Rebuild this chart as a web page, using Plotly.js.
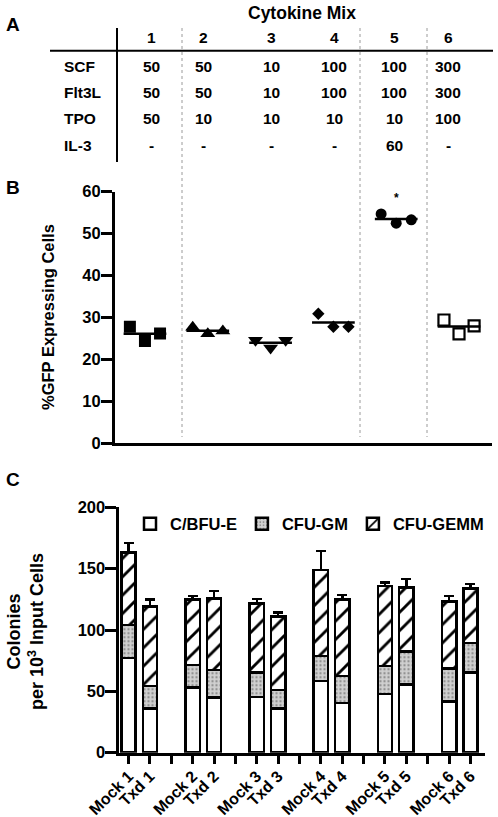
<!DOCTYPE html>
<html>
<head>
<meta charset="utf-8">
<script src="https://cdn.plot.ly/plotly-3.0.1.min.js"></script>
<style>html,body{margin:0;padding:0;background:#fff;}#chart{width:498px;height:817px;}</style>
</head>
<body>
<div id="chart"></div>
<script>
// ---------- Panel A: table data ----------
const mixLabels = ['1', '2', '3', '4', '5', '6'];
const cytokines = ['SCF', 'Flt3L', 'TPO', 'IL-3'];
const scfDose = ['50', '50', '10', '100', '100', '300'];
const flt3lDose = ['50', '50', '10', '100', '100', '300'];
const tpoDose = ['50', '10', '10', '10', '10', '100'];
const il3Dose = ['-', '-', '-', '-', '60', '-'];

// ---------- Panel B: %GFP expressing cells (3 replicates per mix) ----------
const gfpMix1 = [27.8, 24.4, 26.2];
const gfpMix2 = [27.7, 26.1, 26.8];
const gfpMix3 = [24.6, 22.7, 24.6];
const gfpMix4 = [30.9, 27.8, 27.8];
const gfpMix5 = [54.7, 52.5, 53.3];
const gfpMix6 = [29.4, 26.1, 28.0];
const gfpSymbols = ['square', 'triangle-up', 'triangle-down', 'diamond', 'circle', 'square-open'];

// ---------- Panel C: colonies per 10^3 input cells ----------
const colonyCategories = ['Mock 1', 'Txd 1', 'Mock 2', 'Txd 2', 'Mock 3', 'Txd 3',
                          'Mock 4', 'Txd 4', 'Mock 5', 'Txd 5', 'Mock 6', 'Txd 6'];
const cbfuE  = [77, 36, 53, 45, 45.5, 36.2, 58.4, 40.7, 47.8, 55.7, 41.6, 65.2];
const cfuGM  = [27, 18.4, 18.5, 22.4, 19.7, 14.9, 20.4, 21.8, 22.9, 26.6, 27.2, 24.0];
const cfuGEMM = [59, 64.6, 53.5, 58.4, 56.5, 59.7, 70.1, 62.5, 65.2, 52.5, 54.3, 44.8];
const totalErr = [8, 6, 2.7, 6, 3.5, 3.6, 15.5, 3.5, 2.7, 6.8, 4.6, 3.5];

// ---------- helpers ----------
const W = 498, H = 817;
const px = v => v / W;
const py = v => 1 - v / H;
const FONT = 'Liberation Sans, Arial, Helvetica, sans-serif';
const f = (size) => ({family: FONT, size: size, color: '#000', weight: 'bold'});

const traces = [];

// Panel B scatter
const gfpGroups = [gfpMix1, gfpMix2, gfpMix3, gfpMix4, gfpMix5, gfpMix6];
const offsets = [-0.24, 0, 0.24];
const meanX = [], meanY = [];
gfpGroups.forEach((vals, g) => {
  const center = g + 1;
  const sym = gfpSymbols[g];
  const isOpen = sym.indexOf('open') >= 0;
  let size = 12;
  if (sym === 'diamond') size = 9.5;
  if (sym === 'circle') size = 11;
  if (sym === 'square-open') size = 11;
  if (sym.indexOf('triangle') === 0) size = 13;
  traces.push({
    type: 'scatter', mode: 'markers', xaxis: 'x', yaxis: 'y',
    x: vals.map((v, i) => center + offsets[i]), y: vals,
    marker: {symbol: sym, size: size, color: '#000', line: {color: '#000', width: isOpen ? 2.2 : 0}},
    showlegend: false, hoverinfo: 'y'
  });
  const m = vals.reduce((a, b) => a + b, 0) / vals.length;
  meanX.push(center - 0.34, center + 0.34, null);
  meanY.push(m, m, null);
});
traces.push({
  type: 'scatter', mode: 'lines', xaxis: 'x', yaxis: 'y',
  x: meanX, y: meanY, line: {color: '#000', width: 2.5},
  showlegend: false, hoverinfo: 'skip'
});

// Panel C stacked bars
const barX = colonyCategories.map((c, i) => Math.floor(i / 2) * 3 + (i % 2));
const barLine = {color: '#000', width: 2.5};
traces.push({
  type: 'bar', name: 'C/BFU-E', xaxis: 'x2', yaxis: 'y2',
  x: barX, y: cbfuE,
  marker: {color: '#ffffff', line: barLine}
});
traces.push({
  type: 'bar', name: 'CFU-GM', xaxis: 'x2', yaxis: 'y2',
  x: barX, y: cfuGM,
  marker: {color: '#d0d0d0', line: barLine,
           pattern: {shape: '.', fgcolor: '#8c8c8c', bgcolor: '#d0d0d0', size: 4, solidity: 0.25}}
});
traces.push({
  type: 'bar', name: 'CFU-GEMM', xaxis: 'x2', yaxis: 'y2',
  x: barX, y: cfuGEMM,
  marker: {color: '#ffffff', line: barLine,
           pattern: {shape: '/', fgcolor: '#000', bgcolor: '#ffffff', size: 13, solidity: 0.22}},
  error_y: {type: 'data', symmetric: false, array: totalErr, arrayminus: totalErr.map(() => 0),
            color: '#000', thickness: 2.5, width: 5}
});

// ---------- annotations ----------
const ann = [];
ann.push({xref: 'paper', yref: 'paper', x: px(13), y: py(25), text: 'A', showarrow: false, font: f(19), xanchor: 'center', yanchor: 'middle'});
ann.push({xref: 'paper', yref: 'paper', x: px(13), y: py(187), text: 'B', showarrow: false, font: f(19), xanchor: 'center', yanchor: 'middle'});
ann.push({xref: 'paper', yref: 'paper', x: px(13), y: py(479), text: 'C', showarrow: false, font: f(19), xanchor: 'center', yanchor: 'middle'});
ann.push({xref: 'paper', yref: 'paper', x: px(302), y: py(13), text: 'Cytokine Mix', showarrow: false, font: f(17.5), xanchor: 'center', yanchor: 'middle'});

const colX = [151, 203, 271, 334, 394, 448];
const rowY = [66, 92, 118, 146];
const headerY = 38;
mixLabels.forEach((m, c) => {
  ann.push({xref: 'paper', yref: 'paper', x: px(colX[c]), y: py(headerY), text: m, showarrow: false, font: f(15.5), xanchor: 'center', yanchor: 'middle'});
});
const doseRows = [scfDose, flt3lDose, tpoDose, il3Dose];
cytokines.forEach((name, r) => {
  ann.push({xref: 'paper', yref: 'paper', x: px(62), y: py(rowY[r]), text: name, showarrow: false, font: f(15.5), xanchor: 'left', yanchor: 'middle'});
  doseRows[r].forEach((d, c) => {
    ann.push({xref: 'paper', yref: 'paper', x: px(colX[c]), y: py(rowY[r]), text: d, showarrow: false, font: f(15.5), xanchor: 'center', yanchor: 'middle'});
  });
});

// axis titles
ann.push({xref: 'paper', yref: 'paper', x: px(48), y: py(317), text: '%GFP Expressing Cells', textangle: -90, showarrow: false, font: f(16.5), xanchor: 'center', yanchor: 'middle'});
ann.push({xref: 'paper', yref: 'paper', x: px(25), y: py(632), text: 'Colonies<br>per 10<sup>3</sup> Input Cells', textangle: -90, showarrow: false, font: f(18), xanchor: 'center', yanchor: 'middle'});

// significance star
ann.push({xref: 'x', yref: 'y', x: 5, y: 58.6, text: '*', showarrow: false, font: f(12), xanchor: 'center', yanchor: 'middle'});

// ---------- shapes ----------
const shapes = [];
shapes.push({type: 'line', xref: 'paper', yref: 'paper', x0: px(50), x1: px(493), y0: py(50.7), y1: py(50.7), line: {color: '#000', width: 2}});
shapes.push({type: 'line', xref: 'paper', yref: 'paper', x0: px(117), x1: px(117), y0: py(28), y1: py(162), line: {color: '#000', width: 2}});
[182, 360, 427].forEach(xx => {
  shapes.push({type: 'line', xref: 'paper', yref: 'paper', x0: px(xx), x1: px(xx), y0: py(28), y1: py(437), line: {color: '#9a9a9a', width: 1, dash: 'dot'}});
});

const axisCommon = {showgrid: false, zeroline: false, showline: true, linecolor: '#000', linewidth: 3, fixedrange: true};

const layout = {
  width: W, height: H, autosize: false,
  margin: {l: 0, r: 0, t: 0, b: 0, pad: 0},
  paper_bgcolor: '#fff', plot_bgcolor: '#fff',
  font: f(16),
  showlegend: true,
  barmode: 'stack', bargap: 0.33,
  xaxis: Object.assign({}, axisCommon, {
    domain: [px(115), px(492)], range: [0.523, 6.525], anchor: 'y',
    ticks: '', showticklabels: false
  }),
  yaxis: Object.assign({}, axisCommon, {
    domain: [py(443.3), py(191.7)], range: [0, 60], anchor: 'x',
    tickvals: [0, 10, 20, 30, 40, 50, 60], ticks: 'outside', ticklen: 11, tickwidth: 3, tickcolor: '#000',
    tickfont: f(16.5), ticklabelstandoff: -3
  }),
  xaxis2: Object.assign({}, axisCommon, {
    domain: [px(118.5), px(485)], range: [-0.47, 16.68], anchor: 'y2',
    tickvals: barX, ticktext: colonyCategories, tickangle: -45,
    ticks: 'outside', ticklen: 8, tickwidth: 3, tickcolor: '#000',
    minor: {tick0: 0, dtick: 1, ticks: 'outside', ticklen: 8, tickwidth: 3, tickcolor: '#000', showgrid: false},
    tickfont: f(16), ticklabelstandoff: -3
  }),
  yaxis2: Object.assign({}, axisCommon, {
    domain: [py(752.7), py(507.3)], range: [0, 200], anchor: 'x2',
    tickvals: [0, 50, 100, 150, 200], ticks: 'outside', ticklen: 11, tickwidth: 3, tickcolor: '#000',
    tickfont: f(16.5), ticklabelstandoff: -4
  }),
  legend: {
    orientation: 'h', x: px(130), xanchor: 'left', y: py(524), yanchor: 'middle',
    font: f(16.5), bgcolor: 'rgba(0,0,0,0)', traceorder: 'normal'
  },
  annotations: ann,
  shapes: shapes
};

Plotly.newPlot('chart', traces, layout, {displayModeBar: false, staticPlot: true});
</script>
</body>
</html>
